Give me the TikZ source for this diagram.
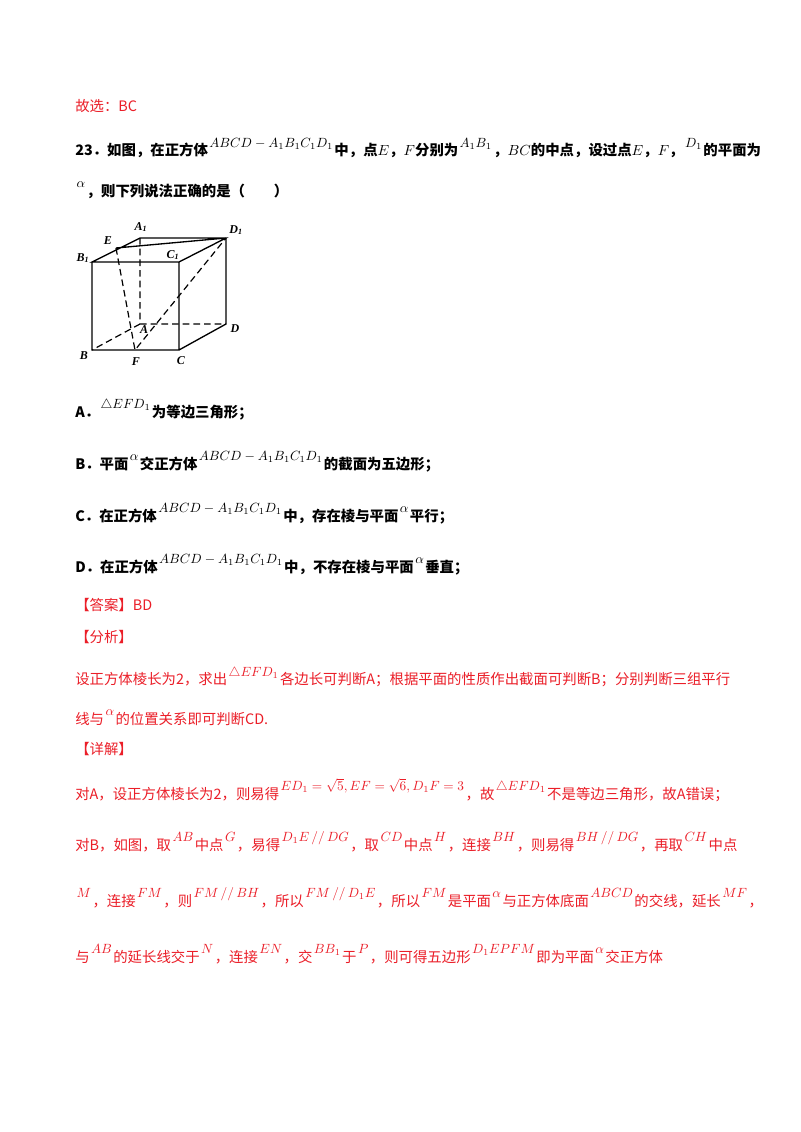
\documentclass[tikz,border=0pt]{standalone}
\usepackage{fontspec}
\setmainfont{Noto Sans CJK SC}
\newfontfamily\lsf{Liberation Serif}
\newcommand{\mm}[1]{\hspace{0.1em}\raisebox{0.6em}{\fontsize{10}{12}\selectfont$#1$}\hspace{0.1em}}
\definecolor{rd}{RGB}{235,30,40}
\begin{document}
\begin{tikzpicture}[x=0.75pt,y=-0.75pt,
  tx/.style={anchor=west,inner sep=0pt,font=\fontsize{10.8}{13}\selectfont},
  qx/.style={tx,font=\fontsize{10.8}{13}\selectfont\bfseries},
  rx/.style={tx,text=rd},
  edge/.style={line width=1pt},
  hid/.style={line width=0.9pt,dashed,dash pattern=on 5pt off 3pt},
  lab/.style={inner sep=0pt,font=\lsf\fontsize{9}{10}\selectfont\bfseries\itshape}]
\useasboundingbox (0,0) rectangle (800,1132);
\fill[white] (0,0) rectangle (800,1132);
\node[rx] (t0) at (75,106) {故选：BC};
\node[qx] (t1) at (75,148) {23．如图，在正方体\mm{ABCD-A_1B_1C_1D_1}中，点$E$，$F$分别为\mm{A_1B_1}，$BC$的中点，设过点$E$，$F$，\mm{D_1}的平面为};
\node[qx] (t2) at (75,190) {\mm{\alpha}，则下列说法正确的是（　　）};
% cube
\coordinate (A1) at (140,238); \coordinate (D1) at (226,238);
\coordinate (B1) at (92,262); \coordinate (C1) at (179,262);
\coordinate (B) at (92,350); \coordinate (C) at (179,350);
\coordinate (A) at (140,324); \coordinate (D) at (226,324);
\coordinate (E) at (116,248); \coordinate (F) at (135,350);
\draw[edge] (B1)--(A1)--(D1)--(C1)--cycle (B1)--(B)--(C)--(C1) (C)--(D)--(D1) (E)--(D1);
\draw[hid] (A1)--(A) (A)--(D) (A)--(B) (E)--(F)--(D1);
\node[lab] (lA1) at (141,227) {A\textsubscript{1}};
\node[lab] (lD1) at (236,230) {D\textsubscript{1}};
\node[lab] (lE) at (108,241) {E};
\node[lab] (lB1) at (83,258) {B\textsubscript{1}};
\node[lab] (lC1) at (173,255) {C\textsubscript{1}};
\node[lab] (lA) at (144,330) {A};
\node[lab] (lD) at (235,329) {D};
\node[lab] (lB) at (84,356) {B};
\node[lab] (lF) at (136,362) {F};
\node[lab] (lC) at (181,361) {C};
% options
\node[qx] (oA) at (75,410) {A．\mm{\triangle EFD_1}为等边三角形；};
\node[qx] (oB) at (75,462) {B．平面\mm{\alpha}交正方体\mm{ABCD-A_1B_1C_1D_1}的截面为五边形；};
\node[qx] (oC) at (75,514) {C．在正方体\mm{ABCD-A_1B_1C_1D_1}中，存在棱与平面\mm{\alpha}平行；};
\node[qx] (oD) at (75,565) {D．在正方体\mm{ABCD-A_1B_1C_1D_1}中，不存在棱与平面\mm{\alpha}垂直；};
\node[rx] (ans) at (75,605) {【答案】BD};
\node[rx] (fx) at (75,637) {【分析】};
\node[rx] (f1) at (75,677) {设正方体棱长为2，求出\mm{\triangle EFD_1}各边长可判断A；根据平面的性质作出截面可判断B；分别判断三组平行};
\node[rx] (f2) at (75,718) {线与\mm{\alpha}的位置关系即可判断CD.};
\node[rx] (xj) at (75,749) {【详解】};
\node[rx] (d1) at (75,790) {对A，设正方体棱长为2，则易得\mm{ED_1=\sqrt5,EF=\sqrt6,D_1F=3}，故\mm{\triangle EFD_1}不是等边三角形，故A错误；};
\node[rx] (d2) at (75,842) {对B，如图，取\mm{AB}中点\mm{G}，易得\mm{D_1E\,//\,DG}，取\mm{CD}中点\mm{H}，连接\mm{BH}，则易得\mm{BH\,//\,DG}，再取\mm{CH}中点};
\node[rx] (d3) at (75,898) {\mm{M}，连接\mm{FM}，则\mm{FM\,//\,BH}，所以\mm{FM\,//\,D_1E}，所以\mm{FM}是平面\mm{\alpha}与正方体底面\mm{ABCD}的交线，延长\mm{MF}，};
\node[rx] (d4) at (75,954) {与\mm{AB}的延长线交于\mm{N}，连接\mm{EN}，交\mm{BB_1}于\mm{P}，则可得五边形\mm{D_1EPFM}即为平面\mm{\alpha}交正方体};
\end{tikzpicture}
\end{document}
